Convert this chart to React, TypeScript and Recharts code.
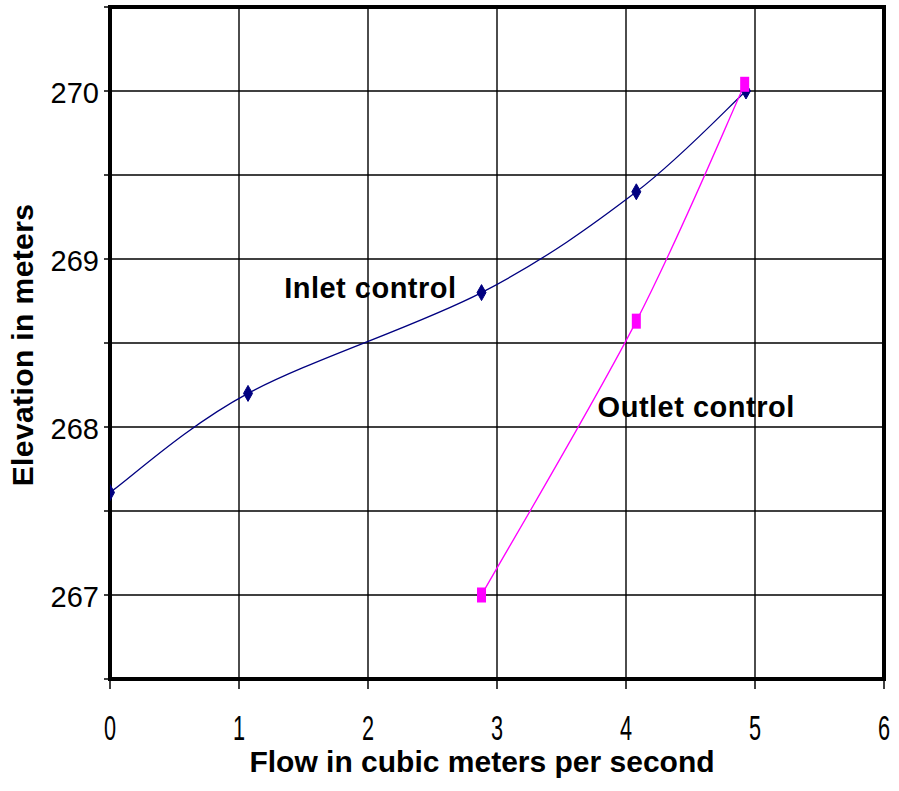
import React from 'react';
import {
  LineChart,
  Line,
  XAxis,
  YAxis,
  CartesianGrid,
  ReferenceArea,
  ReferenceDot,
  Label,
} from 'recharts';

// ---- data ----
const inletFlow = [0, 1.07, 2.88, 4.08, 4.93];
const inletElev = [267.61, 268.2, 268.8, 269.4, 270.0];
const outletFlow = [2.88, 4.08, 4.92];
const outletElev = [267.0, 268.63, 270.04];

const xTicks = [0, 1, 2, 3, 4, 5, 6];
const yTicks = [266.5, 267, 267.5, 268, 268.5, 269, 269.5, 270, 270.5];

const annotationText = ['Inlet control', 'Outlet control'];
const annotationX = [1.35, 3.78];
const annotationY = [268.77, 268.06];

const xTitle = 'Flow in cubic meters per second';
const yTitle = 'Elevation in meters';

const inletData = inletFlow.map((f, i) => ({ flow: f, elev: inletElev[i] }));
const outletData = outletFlow.map((f, i) => ({ flow: f, elev: outletElev[i] }));

const FONT = '"Liberation Sans", Arial, Helvetica, sans-serif';

// Excel-like smoothed line (Catmull-Rom through the points)
const smoothCurve: any = (context: any) => {
  let pts: number[][] = [];
  return {
    areaStart() {},
    areaEnd() {},
    lineStart() {
      pts = [];
    },
    lineEnd() {
      const n = pts.length;
      if (!n) return;
      context.moveTo(pts[0][0], pts[0][1]);
      if (n === 2) {
        context.lineTo(pts[1][0], pts[1][1]);
        return;
      }
      for (let i = 0; i < n - 1; i++) {
        const p0 = pts[Math.max(i - 1, 0)];
        const p1 = pts[i];
        const p2 = pts[i + 1];
        const p3 = pts[Math.min(i + 2, n - 1)];
        const c1x = p1[0] + (p2[0] - p0[0]) / 6;
        const c1y = p1[1] + (p2[1] - p0[1]) / 6;
        const c2x = p2[0] - (p3[0] - p1[0]) / 6;
        const c2y = p2[1] - (p3[1] - p1[1]) / 6;
        context.bezierCurveTo(c1x, c1y, c2x, c2y, p2[0], p2[1]);
      }
    },
    point(x: number, y: number) {
      pts.push([+x, +y]);
    },
  };
};

const Diamond = (props: any) => {
  const { cx, cy } = props;
  if (cx == null || cy == null) return null;
  return (
    <polygon
      points={`${cx},${cy - 8} ${cx + 4.5},${cy} ${cx},${cy + 8} ${cx - 4.5},${cy}`}
      fill="#000080"
      stroke="#000080"
      strokeWidth={1}
    />
  );
};

const Square = (props: any) => {
  const { cx, cy } = props;
  if (cx == null || cy == null) return null;
  return <rect x={cx - 4.5} y={cy - 7.5} width={9} height={15} fill="#FF00FF" />;
};

const XTick = (props: any) => {
  const { x, y, payload } = props;
  return (
    <g transform={`translate(${x},${y})`}>
      <text
        transform="scale(0.62,1)"
        textAnchor="middle"
        y={51}
        fontSize={35}
        fill="#000"
        fontFamily={FONT}
      >
        {payload.value}
      </text>
    </g>
  );
};

const yFmt = (v: number) => (Number.isInteger(v) ? String(v) : '');

const App = () => {
  return (
    <div style={{ position: 'absolute', left: 0, top: 0, width: 899, height: 791, background: '#fff' }}>
      <LineChart
        width={899}
        height={791}
        margin={{ top: 7, right: 15, bottom: 12, left: 10 }}
        style={{ fontFamily: FONT }}
      >
        <CartesianGrid stroke="#000" strokeWidth={1.4} />
        <XAxis
          dataKey="flow"
          type="number"
          domain={[0, 6]}
          ticks={xTicks}
          interval={0}
          height={100}
          tickSize={10}
          tickMargin={0}
          tickLine={{ stroke: '#000', strokeWidth: 1.5 }}
          axisLine={{ stroke: '#000', strokeWidth: 4 }}
          tick={<XTick />}
          allowDataOverflow
        >
          <Label
            content={(p: any) => {
              const vb = p.viewBox || {};
              return (
                <text
                  x={vb.x + vb.width / 2 - 15}
                  y={vb.y + 93}
                  textAnchor="middle"
                  fontSize={30}
                  fontWeight="bold"
                  fill="#000"
                  fontFamily={FONT}
                >
                  {xTitle}
                </text>
              );
            }}
          />
        </XAxis>
        <YAxis
          dataKey="elev"
          type="number"
          domain={[266.5, 270.5]}
          ticks={yTicks}
          interval={0}
          width={100}
          tickSize={6}
          tickMargin={5}
          tickFormatter={yFmt}
          tick={{ fontSize: 29, fill: '#000', fontFamily: FONT, dy: 2 }}
          tickLine={{ stroke: '#000', strokeWidth: 1.5 }}
          axisLine={{ stroke: '#000', strokeWidth: 4 }}
          allowDataOverflow
        >
          <Label
            content={(p: any) => {
              const vb = p.viewBox || {};
              const cx = vb.x + 23;
              const cy = vb.y + vb.height / 2 + 2;
              return (
                <text
                  x={cx}
                  y={cy}
                  transform={`rotate(-90, ${cx}, ${cy})`}
                  textAnchor="middle"
                  fontSize={30}
                  fontWeight="bold"
                  fill="#000"
                  fontFamily={FONT}
                  letterSpacing={0.4}
                >
                  {yTitle}
                </text>
              );
            }}
          />
        </YAxis>
        <ReferenceArea
          x1={0}
          x2={6}
          y1={266.5}
          y2={270.5}
          fill="none"
          fillOpacity={0}
          stroke="#000"
          strokeWidth={4}
          ifOverflow="visible"
        />
        <Line
          data={inletData}
          dataKey="elev"
          type={smoothCurve}
          stroke="#000080"
          strokeWidth={1.3}
          dot={<Diamond />}
          activeDot={false}
          isAnimationActive={false}
        />
        <Line
          data={outletData}
          dataKey="elev"
          type={smoothCurve}
          stroke="#FF00FF"
          strokeWidth={1.3}
          dot={<Square />}
          activeDot={false}
          isAnimationActive={false}
        />
        {annotationText.map((t, i) => (
          <ReferenceDot
            key={t}
            x={annotationX[i]}
            y={annotationY[i]}
            r={0}
            fill="none"
            stroke="none"
            ifOverflow="visible"
            label={{
              content: (p: any) => {
                const vb = p.viewBox || {};
                return (
                  <text
                    x={vb.x}
                    y={vb.y}
                    textAnchor="start"
                    fontSize={29}
                    fontWeight="bold"
                    fill="#000"
                    fontFamily={FONT}
                    letterSpacing={0.5}
                  >
                    {t}
                  </text>
                );
              },
            }}
          />
        ))}
      </LineChart>
    </div>
  );
};

export default App;
